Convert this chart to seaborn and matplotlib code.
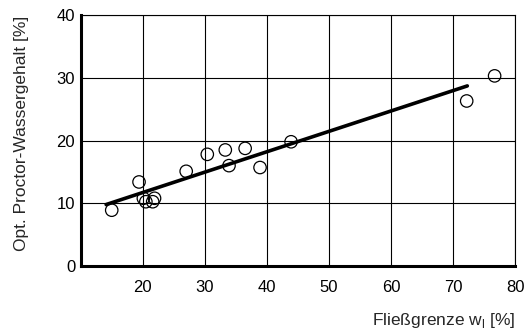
import pandas as pd
import matplotlib.pyplot as plt
import seaborn as sns

# Fließgrenze w_l [%] vs. optimaler Proctor-Wassergehalt [%]
liquid_limit = [15.0, 19.4, 20.1, 20.5, 21.9, 21.6, 27.0, 30.4, 33.3, 33.9,
                36.5, 38.9, 43.9, 72.2, 76.7]
water_content = [8.9, 13.4, 10.8, 10.25, 10.8, 10.25, 15.1, 17.8, 18.5, 16.0,
                 18.75, 15.7, 19.8, 26.3, 30.3]

# regression line end points
fit_x = [14.1, 72.3]
fit_y = [9.8, 28.7]

df = pd.DataFrame({'wl': liquid_limit, 'wpr': water_content})
fit = pd.DataFrame({'wl': fit_x, 'wpr': fit_y})

sns.set_style('white')
plt.rcParams['font.family'] = ['Liberation Sans', 'DejaVu Sans']

fig = plt.figure(figsize=(5.24, 3.33), dpi=100)
ax = fig.add_axes([0.154, 0.201, 0.829, 0.754])

sns.lineplot(data=fit, x='wl', y='wpr', color='black', linewidth=2.6, ax=ax, zorder=3)
sns.scatterplot(data=df, x='wl', y='wpr', marker='o', s=80, facecolor='none',
                edgecolor='black', linewidth=0.9, ax=ax, zorder=4)

ax.set_xlim(10, 80)
ax.set_ylim(0, 40)
ax.set_xticks([20, 30, 40, 50, 60, 70, 80])
ax.set_yticks([0, 10, 20, 30, 40])
ax.grid(True, color='black', linewidth=0.8)
ax.tick_params(axis='both', length=0, labelsize=12, colors='black')
ax.tick_params(axis='x', pad=10)
ax.tick_params(axis='y', pad=4)

for side in ['top', 'right']:
    ax.spines[side].set_linewidth(0.8)
    ax.spines[side].set_color('black')
for side in ['left', 'bottom']:
    ax.spines[side].set_linewidth(2.2)
    ax.spines[side].set_color('black')

ax.set_xlabel('Fließgrenze w$_\\mathregular{l}$ [%]', fontsize=12.5, ha='right')
ax.xaxis.set_label_coords(1.0, -0.18)
ax.set_ylabel('Opt. Proctor-Wassergehalt [%]', fontsize=12.5)
ax.yaxis.set_label_coords(-0.12, 0.527)

fig.savefig('out.png', dpi=100)
